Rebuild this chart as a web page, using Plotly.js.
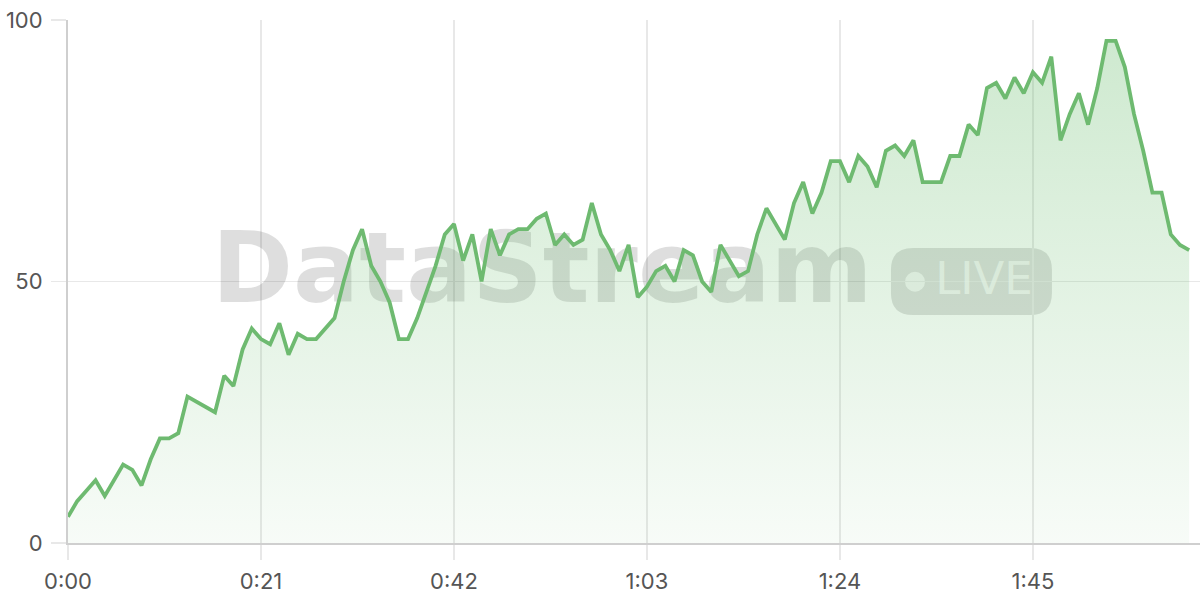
<!DOCTYPE html>
<html><head><meta charset="utf-8">
<script src="https://cdn.plot.ly/plotly-3.0.1.min.js"></script>
<style>html,body{margin:0;padding:0;background:#fff}#chart{width:1200px;height:600px}</style>
</head><body><div id="chart"></div>
<script>
const seconds = [0,1,2,3,4,5,6,7,8,9,10,11,12,13,14,15,16,17,18,19,20,21,22,23,24,25,26,27,28,29,30,31,32,33,34,35,36,37,38,39,40,41,42,43,44,45,46,47,48,49,50,51,52,53,54,55,56,57,58,59,60,61,62,63,64,65,66,67,68,69,70,71,72,73,74,75,76,77,78,79,80,81,82,83,84,85,86,87,88,89,90,91,92,93,94,95,96,97,98,99,100,101,102,103,104,105,106,107,108,109,110,111,112,113,114,115,116,117,118,119,120,121,122];
const values = [5,8,10,12,9,12,15,14,11,16,20,20,21,28,27,26,25,32,30,37,41,39,38,42,36,40,39,39,41,43,50,56,60,53,50,46,39,39,43,48,53,59,61,54,59,50,60,55,59,60,60,62,63,57,59,57,58,65,59,56,52,57,47,49,52,53,50,56,55,50,48,57,54,51,52,59,64,61,58,65,69,63,67,73,73,69,74,72,68,75,76,74,77,69,69,69,74,74,80,78,87,88,85,89,86,90,88,93,77,82,86,80,87,96,96,91,82,75,67,67,59,57,56];
const xTickVals = [0,21,42,63,84,105];
const xTickText = ["0:00","0:21","0:42","1:03","1:24","1:45"];
const yTickVals = [0,50,100];
const watermarkText = "DataStream";
const badgeText = "LIVE";

const lineColor = 'rgb(110,186,112)';
const gridColor = '#e8e8e8';
const axisColor = '#cfcfcf';
const tickFont = {family:'Inter, sans-serif', size:22, color:'#555'};

const traces = [
  {type:'scatter', mode:'text', x:[51.6], y:[50.8], text:[watermarkText],
   textfont:{family:'DejaVu Sans', size:98, weight:700, color:'rgba(0,0,0,0.13)'},
   hoverinfo:'skip', showlegend:false, cliponaxis:false},
  {type:'scatter', mode:'text', x:[99.67], y:[49.7], text:[badgeText],
   textfont:{family:'DejaVu Sans', size:45, weight:400, color:'rgba(255,255,255,0.72)'},
   hoverinfo:'skip', showlegend:false, cliponaxis:false},
  {type:'scatter', mode:'lines', x:seconds, y:values,
   line:{color:lineColor, width:3.8},
   fill:'tozeroy',
   fillgradient:{type:'vertical', start:0, stop:100,
     colorscale:[[0,'rgba(102,187,106,0.05)'],[1,'rgba(102,187,106,0.33)']]},
   hoverinfo:'skip', showlegend:false}
];

const badgePath = 'M -58.5,-33.5 L 58.5,-33.5 Q 80.5,-33.5 80.5,-11.5 L 80.5,11.5 Q 80.5,33.5 58.5,33.5 L -58.5,33.5 Q -80.5,33.5 -80.5,11.5 L -80.5,-11.5 Q -80.5,-33.5 -58.5,-33.5 Z';

const layout = {
  width:1200, height:600,
  margin:{l:68, r:0, t:20, b:57},
  paper_bgcolor:'#fff', plot_bgcolor:'#fff',
  showlegend:false,
  xaxis:{range:[0,123.18], tickvals:xTickVals, ticktext:xTickText,
    showgrid:true, gridcolor:gridColor, gridwidth:1.5,
    showline:true, linecolor:axisColor, linewidth:2,
    zeroline:false, ticks:'outside', ticklen:15, tickcolor:gridColor, tickwidth:1.5,
    tickfont:tickFont, ticklabelstandoff:3, fixedrange:true},
  yaxis:{range:[0,100], tickvals:yTickVals,
    showgrid:true, gridcolor:gridColor, gridwidth:1.5,
    showline:true, linecolor:axisColor, linewidth:2,
    zeroline:false, ticks:'outside', ticklen:15, tickcolor:gridColor, tickwidth:1.5,
    tickfont:tickFont, ticklabelstandoff:4, fixedrange:true},
  shapes:[
    {type:'path', layer:'below', xref:'x', yref:'y', xsizemode:'pixel', ysizemode:'pixel',
     xanchor:98.31, yanchor:50.0, path:badgePath,
     fillcolor:'rgba(0,0,0,0.13)', line:{width:0}},
    {type:'circle', layer:'below', xref:'x', yref:'y', xsizemode:'pixel', ysizemode:'pixel',
     xanchor:92.17, yanchor:49.96, x0:-10, x1:10, y0:-10, y1:10,
     fillcolor:'rgba(255,255,255,0.72)', line:{width:0}}
  ]
};

Plotly.newPlot('chart', traces, layout, {staticPlot:true, displayModeBar:false});
</script></body></html>
